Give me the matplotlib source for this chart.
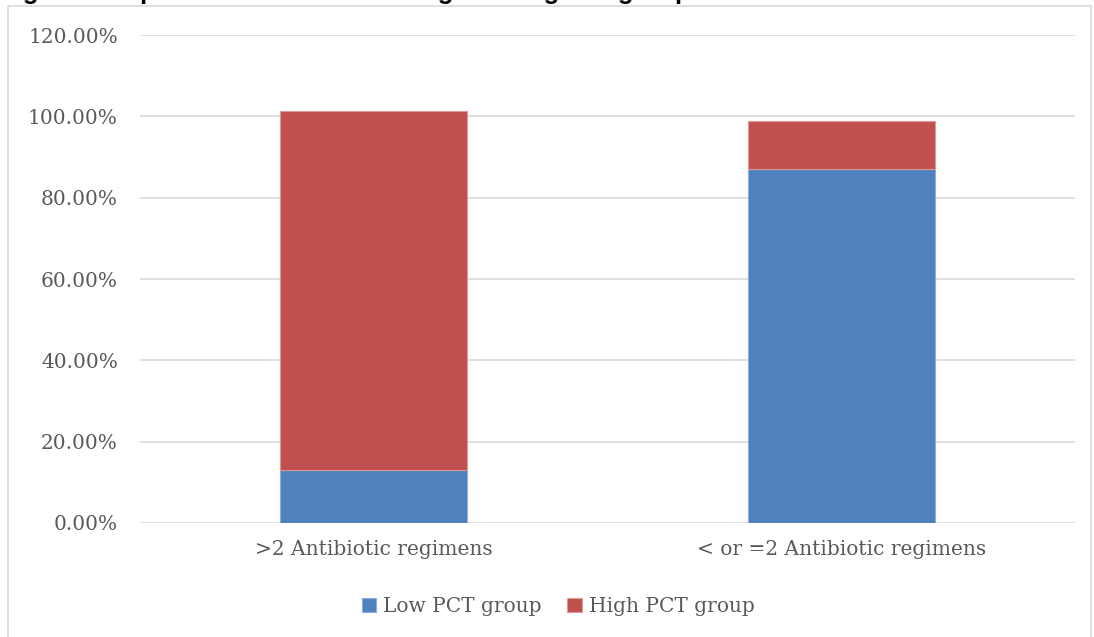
import matplotlib.pyplot as plt
from matplotlib.patches import Rectangle

# Données
categories = [">2 Antibiotic regimens", "< or =2 Antibiotic regimens"]
low_pct = [13.0, 87.0]
high_pct = [88.3, 11.8]
yticks = [0, 20, 40, 60, 80, 100, 120]

blue = "#4F81BD"
red = "#C0504D"
serif = ["DejaVu Serif"]
fs = 14.5

fig = plt.figure(figsize=(10.94, 6.37), dpi=100)
ax = fig.add_axes([0.128, 0.179, 0.8546, 0.766])

x = range(len(categories))
ax.bar(x, low_pct, width=0.4, color=blue, edgecolor="#8EAEDB", linewidth=0.8,
       label="Low PCT group", zorder=3)
ax.bar(x, high_pct, width=0.4, bottom=low_pct, color=red, edgecolor="#DE9896",
       linewidth=0.8, label="High PCT group", zorder=3)

ax.set_xlim(-0.5, 1.5)
ax.set_ylim(0, 120)
ax.set_yticks(yticks)
ax.set_yticklabels(["%.2f%%" % v for v in yticks], family=serif, fontsize=fs,
                   color="#595959")
ax.set_xticks(list(x))
ax.set_xticklabels(categories, family=serif, fontsize=fs, color="#595959")
ax.tick_params(axis="both", length=0)
ax.tick_params(axis="y", pad=16)
ax.tick_params(axis="x", pad=12)
ax.yaxis.grid(True, color="#D9D9D9", linewidth=1.2, zorder=0)
for s in ax.spines.values():
    s.set_visible(False)

leg = fig.legend(loc="center", bbox_to_anchor=(0.51, 0.048), ncol=2, frameon=False,
                 prop={"family": serif, "size": fs}, handlelength=0.7,
                 handleheight=0.7, handletextpad=0.35, columnspacing=1.3)
for t in leg.get_texts():
    t.set_color("#595959")

# cadre du graphique
fig.patches.append(Rectangle((8 / 1094, -0.01), 1083 / 1094, 1 - 6 / 637 + 0.01,
                             transform=fig.transFigure, fill=False,
                             edgecolor="#D9D9D9", linewidth=1.2))

# titre coupé en haut (comme dans l'original)
fig.text(0.0, 1.0 + 1 / 637, "Fig. 3: Comparison of antibiotic usage among two groups",
         family="Liberation Sans", weight="bold", fontsize=18.5, va="baseline", ha="left")

fig.savefig("out.png", dpi=100)
